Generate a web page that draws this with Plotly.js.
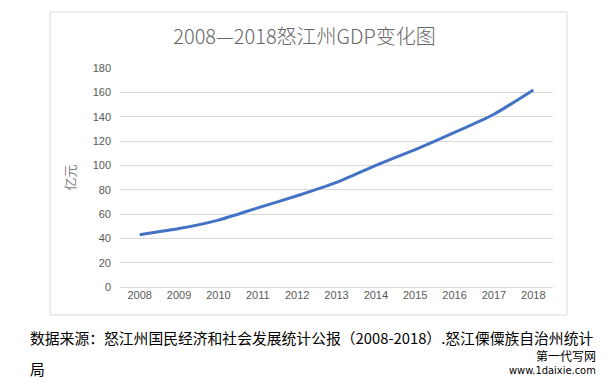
<!DOCTYPE html>
<html><head><meta charset="utf-8">
<script src="https://cdn.plot.ly/plotly-3.0.1.min.js"></script>
<style>html,body{margin:0;padding:0;background:#fff;}#c{width:609px;height:384px;}</style>
</head><body><div id="c"></div>
<script>
const years = ['2008','2009','2010','2011','2012','2013','2014','2015','2016','2017','2018'];
const gdp = [43, 48, 55, 65, 75, 86, 100, 113, 127, 142, 162];
const yTicks = [0,20,40,60,80,100,120,140,160,180];

const L = 120, R = 56, T = 68, B = 97;
const W = 609, H = 384;
const pw = W - L - R, ph = H - T - B;
function px(x){ return (x - L) / pw; }
function py(y){ return (H - B - y) / ph; }

const cjk = '"Noto Sans CJK SC", "Noto Sans", sans-serif';

Plotly.newPlot('c', [{
  x: years, y: gdp, type: 'scatter', mode: 'lines',
  line: {color: '#4472C4', width: 3, shape: 'spline', smoothing: 0.6},
  hoverinfo: 'skip'
}], {
  width: W, height: H,
  margin: {l: L, r: R, t: T, b: B, pad: 0},
  paper_bgcolor: '#fff', plot_bgcolor: '#fff',
  showlegend: false,
  title: {text: '2008—2018怒江州GDP变化图', font: {family: cjk, size: 20, color: '#666666', weight: 300},
          x: 0.5, xanchor: 'center', y: 1 - 37/H, yanchor: 'middle'},
  xaxis: {type: 'category', tickvals: years, ticktext: years, showgrid: false, zeroline: false,
          showline: false, ticks: '', tickfont: {family: 'Liberation Sans, Arial, sans-serif', size: 11, color: '#595959'},
          range: [-0.5, years.length - 0.5], fixedrange: true},
  yaxis: {range: [0, 180], tickvals: yTicks, showgrid: true, gridcolor: '#d9d9d9', gridwidth: 1,
          zeroline: true, zerolinecolor: '#d9d9d9', zerolinewidth: 1, showline: false, ticks: '',
          ticklabelstandoff: 8,
          tickfont: {family: 'Liberation Sans, Arial, sans-serif', size: 11, color: '#595959'},
          title: {text: '亿元', font: {family: cjk, size: 13, color: '#7f7f7f'}, standoff: 14}, fixedrange: true},
  shapes: [{type: 'rect', xref: 'paper', yref: 'paper',
            x0: px(50), x1: px(567), y0: py(315), y1: py(12),
            line: {color: '#d9d9d9', width: 1}, fillcolor: 'rgba(0,0,0,0)', layer: 'below'}],
  annotations: [
    {xref: 'paper', yref: 'paper', x: px(28), y: py(337), xanchor: 'left', yanchor: 'middle', showarrow: false,
     text: '数据来源：怒江州国民经济和社会发展统计公报（2008-2018）.怒江傈僳族自治州统计',
     font: {family: cjk, size: 14.8, color: '#000'}},
    {xref: 'paper', yref: 'paper', x: px(28), y: py(369), xanchor: 'left', yanchor: 'middle', showarrow: false,
     text: '局', font: {family: cjk, size: 14.8, color: '#000'}},
    {xref: 'paper', yref: 'paper', x: px(598), y: py(355), xanchor: 'right', yanchor: 'middle', showarrow: false,
     text: '第一代写网', font: {family: cjk, size: 12, color: '#000'}},
    {xref: 'paper', yref: 'paper', x: px(598), y: py(370), xanchor: 'right', yanchor: 'middle', showarrow: false,
     text: 'www.1daixie.com', font: {family: 'DejaVu Sans Condensed, Liberation Sans Narrow, sans-serif', size: 11, color: '#000'}}
  ]
}, {staticPlot: true, displayModeBar: false});
</script></body></html>
